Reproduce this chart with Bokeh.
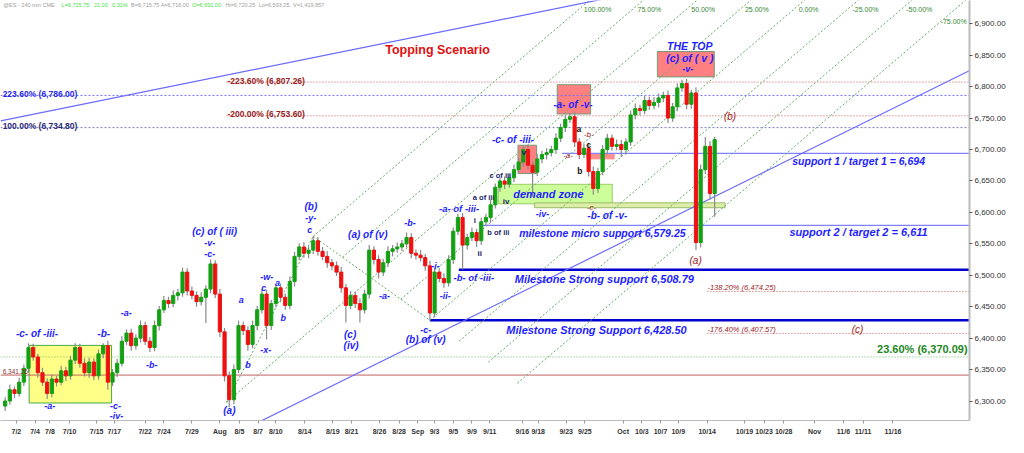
from bokeh.plotting import figure
from bokeh.models import Range1d, FixedTicker, NumeralTickFormatter, Label, ColumnDataSource
from bokeh.embed import file_html
from bokeh.resources import INLINE

# ---------------- data ----------------
# 240-min ES candles, sampled as two bars per trading day; x = trading-day index (0 = Jul 2)
bar_start = -1.2
bar_step = 0.5
first_open = 6292
closes = [
    6300, 6318, 6312, 6330, 6352, 6385, 6370, 6345, 6330, 6312,
    6335, 6330, 6348, 6340, 6365, 6385, 6360, 6345, 6362, 6340,
    6375, 6388, 6330, 6345, 6360, 6395, 6408, 6388, 6400, 6420,
    6395, 6385, 6420, 6445, 6460, 6455, 6468, 6472, 6505, 6475,
    6468, 6458, 6465, 6478, 6518, 6470, 6410, 6340, 6302, 6350,
    6420, 6412, 6390, 6420, 6445, 6470, 6420, 6455, 6480, 6465,
    6452, 6490, 6530, 6545, 6535, 6540, 6555, 6538, 6530, 6520,
    6515, 6505, 6480, 6452, 6468, 6455, 6445, 6470, 6540, 6525,
    6505, 6520, 6538, 6542, 6545, 6550, 6560, 6535, 6532, 6528,
    6515, 6440, 6505, 6495, 6488, 6525, 6570, 6592, 6548, 6560,
    6568, 6555, 6585, 6592, 6612, 6640, 6650, 6645, 6655, 6668,
    6680, 6700, 6675, 6664, 6685, 6692, 6695, 6700, 6718, 6735,
    6748, 6752, 6712, 6692, 6702, 6665, 6638, 6665, 6700, 6718,
    6705, 6708, 6700, 6712, 6755, 6765, 6762, 6778, 6770, 6775,
    6782, 6786, 6750, 6768, 6798, 6805, 6772, 6790, 6552, 6668,
    6705, 6630, 6715.75,
]
wick_up = [
    6, 8, 5, 7, 6, 7, 6, 5, 8, 6,
    7, 5, 8, 6, 7, 7, 6, 8, 7, 6,
    7, 4, 8, 6, 7, 8, 6, 7, 6, 8,
    6, 7, 8, 6, 7, 6, 8, 6, 7, 6,
    7, 6, 8, 6, 7, 6, 8, 6, 7, 8,
    8, 6, 7, 8, 6, 8, 7, 6, 5, 7,
    6, 8, 7, 6, 8, 6, 7, 6, 7, 8,
    6, 7, 8, 6, 7, 6, 8, 7, 8, 6,
    7, 6, 8, 6, 7, 6, 8, 7, 6, 8,
    6, 8, 7, 6, 8, 7, 6, 6, 7, 6,
    8, 6, 7, 6, 8, 6, 5, 7, 6, 8,
    6, 5, 7, 6, 8, 6, 7, 6, 8, 6,
    7, 6, 8, 6, 7, 6, 8, 6, 7, 7,
    6, 8, 7, 6, 7, 8, 6, 7, 6, 8,
    7, 6, 8, 6, 7, 6, 7, 5, 9, 8,
    15, 8, 4.5,
]
wick_dn = [
    8, 6, 7, 5, 6, 7, 6, 8, 6, 9,
    6, 7, 5, 8, 6, 6, 7, 6, 8, 7,
    6, 7, 12, 6, 7, 5, 6, 8, 6, 7,
    6, 7, 6, 8, 5, 7, 6, 8, 6, 7,
    6, 8, 6, 41, 7, 6, 8, 9, 12, 7,
    6, 7, 10, 6, 8, 6, 22, 7, 6, 8,
    7, 6, 8, 6, 7, 8, 6, 7, 6, 8,
    7, 6, 8, 27, 6, 7, 20, 6, 7, 8,
    10, 6, 7, 8, 6, 7, 6, 8, 7, 6,
    8, 12, 7, 6, 8, 6, 7, 6, 39, 7,
    6, 10, 7, 6, 8, 6, 7, 8, 6, 7,
    6, 8, 7, 39, 6, 7, 8, 6, 7, 6,
    7, 6, 8, 7, 6, 8, 10, 7, 6, 8,
    7, 6, 12, 8, 6, 7, 8, 6, 7, 6,
    8, 7, 8, 6, 7, 6, 8, 7, 12, 8,
    7, 10, 37,
]

tick_pos = [0, 2.0, 3.6, 5.7, 8.6, 10.5, 13.8, 15.8, 18.8, 21.8, 23.9, 25.9, 27.8,
            30.9, 33.9, 35.9, 38.9, 41.0, 43.0, 44.8, 46.8, 48.8, 50.7, 54.2, 55.9,
            58.9, 60.9, 65.0, 67.0, 69.0, 70.9, 74.0, 78.0, 80.1, 82.2, 85.5, 88.6,
            90.7, 93.9]
tick_text = ["7/2", "7/4", "7/8", "7/10", "7/15", "7/17", "7/22", "7/24", "7/29", "Aug",
             "8/5", "8/7", "8/10", "8/14", "8/19", "8/21", "8/26", "8/28", "Sep", "9/3",
             "9/5", "9/9", "9/11", "9/16", "9/18", "9/23", "9/25", "Oct", "10/3", "10/7",
             "10/9", "10/14", "10/19", "10/23", "10/28", "Nov", "11/6", "11/11", "11/16"]
price_ticks = [6300, 6350, 6400, 6450, 6500, 6550, 6600, 6650, 6700, 6750, 6800, 6850, 6900]

# horizontal levels
fib_blue = [("223.60% (6,786.00)", 6786.00), ("100.00% (6,734.80)", 6734.80)]
fib_red_up = [("-223.60% (6,807.26)", 6807.26), ("-200.00% (6,753.60)", 6753.60)]
fib_red_dn = [("-138.20% (6,474.25)", 6474.25), ("-176.40% (6,407.57)", 6407.57)]
fib_green = 6370.09
ref_level = 6341.26
strong_1 = 6508.79
strong_2 = 6428.50
micro_support = 6579.25
support_1 = 6694.0

# pitchfork pivots (day index, price)
pivot_a = (22.5, 6298.0)
pivot_b = (31.8, 6562.0)
pivot_c = (44.3, 6428.5)
fork_levels = [1.0, 0.75, 0.5, 0.25, 0.0, -0.25, -0.5, -0.75]

# ---------------- figure ----------------
X0, X1 = -1.7, 102.1
Y0, Y1 = 6269.0, 6937.0
FONT = "Liberation Sans"

p = figure(width=1008, height=437, x_range=Range1d(X0, X1), y_range=Range1d(Y0, Y1),
           output_backend="svg", toolbar_location=None, y_axis_location="right",
           min_border_left=0, min_border_top=0, min_border_bottom=0, min_border_right=0)
p.outline_line_color = None
p.xgrid.visible = False
p.ygrid.visible = False
p.background_fill_color = "white"


def P(px, py):
    """reference-pixel position -> (day index, price)"""
    return (px - 16) / 9.51, 6936.6 - py / 0.644


def txt(px, py, s, size=10, color="#1f1fff", style="bold italic", align="center", base="middle"):
    x, y = P(px, py)
    p.add_layout(Label(x=x, y=y, text=s, text_font=FONT, text_font_size=f"{size}px",
                       text_color=color, text_font_style=style, text_align=align,
                       text_baseline=base))


# boxes (drawn first, under candles)
def box(px0, py0, px1, py1, fill, line):
    x0, y0 = P(px0, py0)
    x1, y1 = P(px1, py1)
    p.quad(left=x0, right=x1, top=y0, bottom=y1, fill_color=fill, line_color=line, line_width=1)


box(29, 353, 113, 412, "#ffff88", "#44aa44")          # flat
box(507, 188, 623, 208, "#ccff99", "#99cc66")         # demand zone
box(544, 207, 738, 212, "#ddeeaa", "#99bb66")         # thin band
box(527, 148, 546, 177, "#ff8080", "#779977")         # v box
box(567, 86, 601, 116, "#ff8080", "#779977")          # -a- of -v-
box(669, 52, 727, 78, "#ff8080", "#779977")           # THE TOP
box(597, 157, 625, 162, "#ff9090", "#ff9090")         # small -a- bar

# level lines
for _, lv in fib_blue[:1]:
    p.segment(x0=X0, x1=X1, y0=lv, y1=lv, line_color="#7070ff", line_dash="2 2", line_width=1)
for _, lv in fib_blue[1:]:
    p.segment(x0=X0, x1=X1, y0=lv, y1=lv, line_color="#7a7acc", line_dash="2 2", line_width=1)
for _, lv in fib_red_up:
    p.segment(x0=P(230, 0)[0], x1=X1, y0=lv, y1=lv, line_color="#cc5555", line_dash="1 2", line_width=1)
for _, lv in fib_red_dn:
    p.segment(x0=P(720, 0)[0], x1=X1, y0=lv, y1=lv, line_color="#cc5555", line_dash="1 2", line_width=1)
p.segment(x0=X0, x1=X1, y0=fib_green, y1=fib_green, line_color="#66bb66", line_dash="1 2", line_width=1)
p.segment(x0=X0, x1=X1, y0=ref_level, y1=ref_level, line_color="#c06060", line_width=1)
p.segment(x0=44.3, x1=X1, y0=strong_2, y1=strong_2, line_color="#0000cc", line_width=2.5)
p.segment(x0=47.4, x1=X1, y0=strong_1, y1=strong_1, line_color="#0000cc", line_width=2.5)
p.segment(x0=P(490, 0)[0], x1=X1, y0=micro_support, y1=micro_support, line_color="#8080ff", line_width=1.2)
p.segment(x0=P(572, 0)[0], x1=X1, y0=support_1, y1=support_1, line_color="#8080ff", line_width=1.2)

# pitchfork
(ax, ay), (bx, by), (cx, cy) = pivot_a, pivot_b, pivot_c
mx, my = (bx + cx) / 2, (by + cy) / 2
slope = (my - ay) / (mx - ax)
p.segment(x0=ax, y0=ay, x1=bx, y1=by, line_color="#66aa66", line_dash="2 2", line_width=1)
p.segment(x0=bx, y0=by, x1=cx, y1=cy, line_color="#66aa66", line_dash="2 2", line_width=1)
for L in fork_levels:
    sx, sy = cx + L * (bx - cx), cy + L * (by - cy)
    if L == 0.5:
        sx, sy = ax, ay
    ex = sx + 90
    p.segment(x0=sx, y0=sy, x1=ex, y1=sy + 90 * slope, line_color="#66aa66", line_dash="2 2", line_width=1)
    ytop = 6922.0
    xt = sx + (ytop - sy) / slope
    lab = f"{L * 100:.2f}%"
    if xt > 97:
        p.add_layout(Label(x=X1 - 0.3, y=6904, text=lab, text_font=FONT, text_font_size="7px",
                           text_color="#338833", text_align="right", text_baseline="middle"))
    else:
        p.add_layout(Label(x=xt + 0.6, y=ytop, text=lab, text_font=FONT, text_font_size="7px",
                           text_color="#338833", text_align="left", text_baseline="middle"))

# blue trend lines
u0 = P(0, 123); u1 = P(620, -3)
p.segment(x0=u0[0], y0=u0[1], x1=u1[0], y1=u1[1], line_color="#6a6aff", line_width=1.2)
l0 = P(250, 438); l1 = P(990, 70)
p.segment(x0=l0[0], y0=l0[1], x1=l1[0], y1=l1[1], line_color="#6a6aff", line_width=1.2)

# candles
n = len(closes)
xs = [bar_start + bar_step * i for i in range(n)]
opens = [first_open] + closes[:-1]
highs = [max(o, c) + u for o, c, u in zip(opens, closes, wick_up)]
lows = [min(o, c) - d for o, c, d in zip(opens, closes, wick_dn)]
cols = ["#13a013" if c >= o else "#ee1111" for o, c in zip(opens, closes)]
src = ColumnDataSource(dict(x=xs, o=opens, c=closes, h=highs, l=lows, col=cols,
                            top=[max(o, c) for o, c in zip(opens, closes)],
                            bot=[min(o, c) for o, c in zip(opens, closes)]))
p.segment(x0="x", x1="x", y0="l", y1="h", source=src, line_color="#8a8a8a", line_width=1.2)
p.vbar(x="x", width=0.34, top="top", bottom="bot", source=src, fill_color="col", line_color="col")

# ---------------- texts ----------------
hdr = [(3, "@ES - 240 min", "#a0a0a0"), (44, "CME", "#a0a0a0"), (64, "L=6,715.75", "#44dd44"),
       (98, "21.00", "#44dd44"), (117, "0.31%", "#44dd44"), (137, "B=6,715.75", "#a0a0a0"),
       (168, "A=6,716.00", "#a0a0a0"), (201, "O=6,691.00", "#44dd44"), (236, "Hi=6,720.25", "#a0a0a0"),
       (271, "Lo=6,593.25", "#a0a0a0"), (307, "V=1,419,857", "#a0a0a0")]
for hx, hs, hc in hdr:
    txt(hx * 0.97, 4, hs, size=5.5, color=hc, style="normal", align="left")

txt(2, 96, fib_blue[0][0], 8.5, "#2a2aee", "bold", "left")
txt(2, 128, fib_blue[1][0], 8.5, "#2a2a77", "bold", "left")
txt(231, 82, fib_red_up[0][0], 8.5, "#992222", "bold", "left")
txt(231, 116, fib_red_up[1][0], 8.5, "#992222", "bold", "left")
txt(720, 294, fib_red_dn[0][0], 7.5, "#992222", "italic", "left")
txt(720, 337, fib_red_dn[1][0], 7.5, "#992222", "italic", "left")
txt(985, 357, "23.60% (6,370.09)", 11, "#228822", "bold", "right")
txt(2, 380, "6,341.26", 6.5, "#883333", "normal", "left")

txt(445, 50, "Topping Scenario", 12.5, "#e01010", "bold")
B = "#1f1fff"; R = "#a31515"; K = "#222266"
labels = [
    ("-c- of -iii-", 37, 341, 10, B), ("-b-", 105, 341, 10, B), ("-a-", 50, 415, 9, B),
    ("-c-", 117, 415, 9, B), ("-iv-", 118, 425, 9, B), ("-a-", 128, 320, 9, B), ("-b-", 154, 373, 9, B),
    ("(c) of ( iii)", 218, 236, 10, B), ("-v-", 213, 248, 9, B), ("-c-", 213, 259, 9, B),
    ("a", 245, 307, 9, B), ("b", 252, 373, 9, B), ("(a)", 233, 420, 10, B),
    ("-w-", 271, 283, 9, B), ("c", 268, 294, 9, B), ("a", 282, 289, 9, B), ("b", 288, 325, 9, B),
    ("-x-", 270, 358, 9, B), ("(b)", 316, 211, 10, B), ("-y-", 316, 223, 9, B), ("c", 315, 235, 9, B),
    ("(a) of (v)", 374, 239, 10, B), ("-b-", 417, 228, 9, B), ("-a-", 391, 302, 9, B),
    ("(c)", 356, 342, 10, B), ("(iv)", 357, 353, 10, B), ("-c-", 433, 337, 9, B),
    ("(b) of (v)", 433, 347, 10, B), ("-i-", 443, 272, 9, B), ("-ii-", 453, 302, 9, B),
    ("-b- of -iii-", 482, 283, 9.5, B), ("-a- of -iii-", 467, 213, 9.5, B),
    ("-c- of -iii-", 522, 142, 10, B), ("demand zone", 558, 198, 11, B), ("-iv-", 552, 218, 9, B),
    ("-a- of -v-", 583, 106, 10, B), ("-b- of -v-", 618, 220, 10, B),
    ("milestone micro support 6,579.25", 613, 238, 10.5, B),
    ("Milestone Strong support 6,508.79", 615, 285, 11, B),
    ("Milestone Strong Support 6,428.50", 607, 337, 11, B),
    ("THE TOP", 702, 46, 10.5, B), ("(c) of ( v )", 702, 59, 10.5, B), ("-v-", 700, 70, 9, B),
    ("support 1 / target 1 = 6,694", 874, 164, 10.5, B),
    ("support 2 / target 2 = 6,611", 874, 237, 11, B),
]
for s, x_, y_, sz, c in labels:
    txt(x_, y_, s, sz, c, "bold italic")

for s, x_, y_, sz in [("(a)", 708, 266, 10), ("(b)", 743, 119, 10), ("(c)", 873, 337, 10),
                      ("-b-", 599, 137, 8), ("-a-", 578, 159, 8), ("-c-", 602, 212, 8)]:
    txt(x_, y_, s, sz, R, "italic")

for s, x_, y_, sz in [("ii", 488, 259, 8), ("b of iii", 507, 237, 7.5), ("i", 483, 225, 8),
                      ("a of iii", 492, 202, 7.5), ("iv", 515, 206, 8), ("c of iii", 509, 179, 7.5),
                      ("v", 533, 155, 8)]:
    txt(x_, y_, s, sz, K, "bold")
for s, x_, y_ in [("a", 589, 131), ("c", 599, 148), ("b", 590, 174)]:
    txt(x_, y_, s, 8.5, "#111111", "bold")

# last price tag on the axis
p.add_layout(Label(x=X1, y=closes[-1], text="6,715.75", text_font=FONT, text_font_size="8px",
                   text_color="white", text_font_style="bold", text_align="left", text_baseline="middle",
                   x_offset=2, level="overlay", padding=1,
                   background_fill_color="#2a8a2a", border_line_color="#2a8a2a"))

# ---------------- axes ----------------
ya = p.yaxis[0]
ya.ticker = FixedTicker(ticks=price_ticks)
ya.formatter = NumeralTickFormatter(format="0,0.00")
ya.major_label_text_font = FONT
ya.major_label_text_font_size = "8px"
ya.major_label_text_color = "#333333"
ya.major_label_standoff = 2
ya.axis_line_color = "#bbbbbb"
ya.axis_line_width = 2
ya.major_tick_line_color = "#555555"
ya.major_tick_out = 3
ya.major_tick_in = 0
ya.minor_tick_line_color = None

xa = p.xaxis[0]
xa.ticker = FixedTicker(ticks=tick_pos)
xa.major_label_overrides = {t: s for t, s in zip(tick_pos, tick_text)}
xa.major_label_text_font = FONT
xa.major_label_text_font_size = "7px"
xa.major_label_text_font_style = "bold"
xa.major_label_text_color = "#333333"
xa.major_label_standoff = 4
xa.axis_line_color = "#bbbbbb"
xa.axis_line_width = 1
xa.major_tick_line_color = "#999999"
xa.major_tick_out = 3
xa.major_tick_in = 0
xa.minor_tick_line_color = None

open("out.html", "w").write(file_html(p, INLINE))
